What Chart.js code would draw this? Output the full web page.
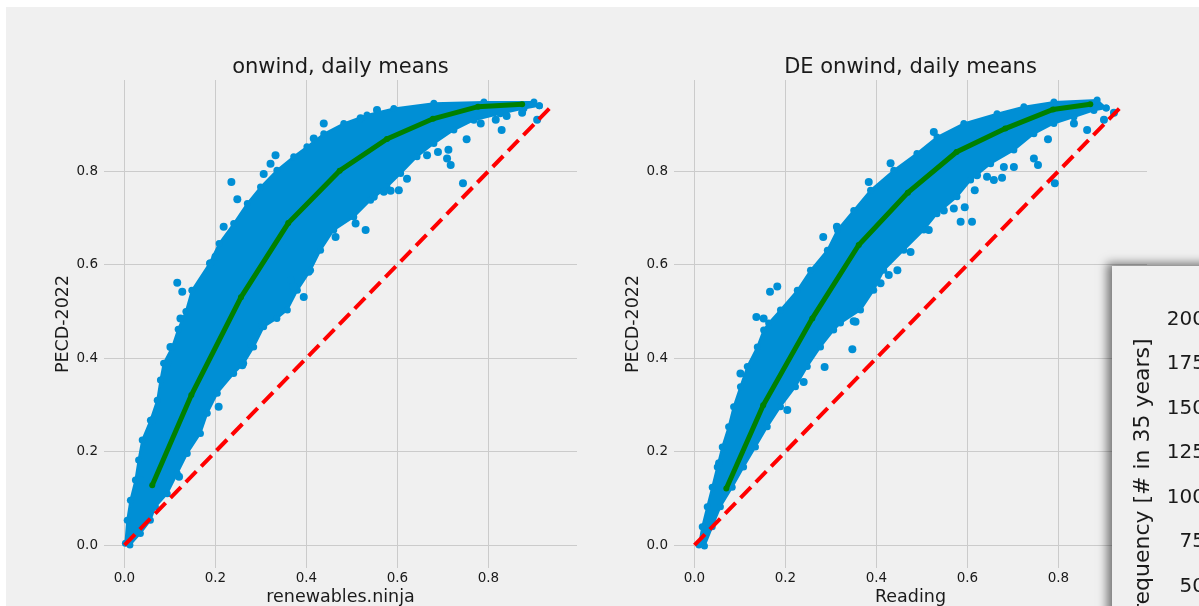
<!DOCTYPE html>
<html>
<head>
<meta charset="utf-8">
<script src="https://cdn.jsdelivr.net/npm/chart.js@4.4.1/dist/chart.umd.min.js"></script>
<style>
  html, body { margin: 0; padding: 0; background: #fff; overflow: hidden; width: 1199px; height: 606px; }
  #fig { position: absolute; left: 6px; top: 7px; width: 1193px; height: 599px; background: #f0f0f0; }
  canvas { position: absolute; }
  #left { left: 20px; top: 30px; }
  #right { left: 590px; top: 30px; }
  #overlay { position: absolute; left: 1112px; top: 266px; width: 400px; height: 460px;
             background: #f0f0f0; box-shadow: -5px -3px 9px rgba(0,0,0,0.5); }
  #overlay canvas { left: 0; top: 0; }
</style>
</head>
<body>
<div id="fig"></div>
<canvas id="left" width="570" height="576"></canvas>
<canvas id="right" width="570" height="576"></canvas>
<div id="overlay"><canvas id="freq" width="400" height="460"></canvas></div>
<script>
// tick values
const xTicks = [0, 0.2, 0.4, 0.6, 0.8];
const yTicks = [0, 0.2, 0.4, 0.6, 0.8];
const freqTicks = [0, 25, 50, 75, 100, 125, 150, 175, 200];

// 1:1 reference line
const diagX = [0, 0.94];
const diagY = [0, 0.94];

// renewables.ninja vs PECD-2022
const ninjaMeanX = [0.061, 0.147, 0.256, 0.360, 0.473, 0.577, 0.678, 0.777, 0.874];
const ninjaMeanY = [0.128, 0.321, 0.530, 0.689, 0.801, 0.869, 0.912, 0.938, 0.943];
const ninjaUpperX = [0.002, 0.006, 0.013, 0.024, 0.031, 0.039, 0.057, 0.072, 0.079, 0.086, 0.105, 0.118, 0.135, 0.148, 0.187, 0.208, 0.240, 0.270, 0.299, 0.335, 0.372, 0.401, 0.438, 0.482, 0.533, 0.592, 0.680, 0.790, 0.900, 0.912];
const ninjaUpperY = [0.004, 0.053, 0.096, 0.139, 0.182, 0.225, 0.267, 0.310, 0.353, 0.389, 0.424, 0.462, 0.500, 0.545, 0.603, 0.645, 0.688, 0.731, 0.766, 0.802, 0.831, 0.852, 0.880, 0.902, 0.920, 0.934, 0.945, 0.948, 0.948, 0.940];
const ninjaLowerX = [0.012, 0.035, 0.057, 0.068, 0.094, 0.116, 0.138, 0.167, 0.182, 0.204, 0.240, 0.262, 0.284, 0.306, 0.335, 0.358, 0.380, 0.409, 0.431, 0.460, 0.504, 0.541, 0.577, 0.607, 0.643, 0.680, 0.724, 0.768, 0.826, 0.878, 0.912];
const ninjaLowerY = [0.000, 0.025, 0.053, 0.082, 0.110, 0.153, 0.196, 0.239, 0.282, 0.325, 0.367, 0.389, 0.424, 0.467, 0.485, 0.503, 0.545, 0.588, 0.631, 0.674, 0.702, 0.738, 0.766, 0.795, 0.831, 0.859, 0.888, 0.909, 0.923, 0.934, 0.940];
const ninjaOutX = [0.235, 0.248, 0.306, 0.332, 0.321, 0.438, 0.416, 0.752, 0.744, 0.717, 0.712, 0.689, 0.709, 0.829, 0.665, 0.603, 0.585, 0.570, 0.621, 0.530, 0.508, 0.548, 0.464, 0.405, 0.372, 0.394, 0.365, 0.907, 0.874, 0.840, 0.816, 0.783, 0.116, 0.127, 0.123, 0.189, 0.200, 0.218, 0.555, 0.519, 0.207, 0.278, 0.302, 0.101, 0.094, 0.061, 0.035, 0.259, 0.120];
const ninjaOutY = [0.777, 0.740, 0.794, 0.834, 0.816, 0.902, 0.870, 0.868, 0.774, 0.813, 0.846, 0.841, 0.827, 0.888, 0.834, 0.759, 0.758, 0.756, 0.784, 0.674, 0.688, 0.745, 0.659, 0.585, 0.553, 0.531, 0.567, 0.910, 0.925, 0.918, 0.910, 0.902, 0.561, 0.542, 0.485, 0.603, 0.617, 0.681, 0.931, 0.913, 0.296, 0.431, 0.471, 0.424, 0.389, 0.267, 0.139, 0.385, 0.146];

// Reading vs PECD-2022 (DE)
const readMeanX = [0.070, 0.151, 0.259, 0.361, 0.469, 0.576, 0.683, 0.788, 0.870];
const readMeanY = [0.121, 0.299, 0.485, 0.642, 0.754, 0.841, 0.891, 0.932, 0.943];
const readUpperX = [0.010, 0.017, 0.028, 0.039, 0.050, 0.061, 0.075, 0.086, 0.101, 0.116, 0.138, 0.152, 0.163, 0.189, 0.226, 0.255, 0.292, 0.314, 0.350, 0.387, 0.438, 0.489, 0.533, 0.592, 0.665, 0.724, 0.790, 0.885, 0.905];
const readUpperY = [0.000, 0.039, 0.082, 0.124, 0.167, 0.210, 0.253, 0.296, 0.339, 0.382, 0.424, 0.460, 0.475, 0.503, 0.545, 0.588, 0.631, 0.674, 0.716, 0.759, 0.802, 0.838, 0.873, 0.902, 0.923, 0.938, 0.948, 0.952, 0.935];
const readLowerX = [0.022, 0.039, 0.057, 0.083, 0.108, 0.134, 0.160, 0.189, 0.222, 0.248, 0.277, 0.306, 0.321, 0.365, 0.394, 0.416, 0.460, 0.504, 0.533, 0.577, 0.607, 0.651, 0.702, 0.746, 0.790, 0.834, 0.878, 0.905];
const readLowerY = [-0.002, 0.039, 0.082, 0.124, 0.167, 0.210, 0.253, 0.296, 0.339, 0.382, 0.424, 0.460, 0.475, 0.503, 0.545, 0.588, 0.631, 0.674, 0.709, 0.745, 0.781, 0.816, 0.845, 0.880, 0.902, 0.916, 0.930, 0.935];
const readOutX = [0.922, 0.900, 0.863, 0.834, 0.777, 0.792, 0.755, 0.746, 0.702, 0.680, 0.676, 0.658, 0.643, 0.621, 0.616, 0.594, 0.585, 0.610, 0.570, 0.548, 0.515, 0.475, 0.446, 0.427, 0.409, 0.383, 0.431, 0.526, 0.313, 0.283, 0.166, 0.182, 0.136, 0.152, 0.350, 0.347, 0.286, 0.204, 0.101, 0.054, 0.240, 0.354];
const readOutY = [0.925, 0.910, 0.888, 0.902, 0.868, 0.774, 0.813, 0.827, 0.809, 0.809, 0.786, 0.781, 0.788, 0.791, 0.759, 0.723, 0.692, 0.692, 0.720, 0.716, 0.674, 0.627, 0.588, 0.578, 0.560, 0.777, 0.817, 0.884, 0.681, 0.659, 0.542, 0.553, 0.488, 0.485, 0.479, 0.419, 0.381, 0.289, 0.367, 0.175, 0.349, 0.478];

const FONT = "'DejaVu Sans', sans-serif";
const BLUE = '#008fd5';
const TEXT = '#1a1a1a';

function pts(xs, ys) {
  return xs.map((x, i) => ({x: x, y: ys[i]}));
}

function scatterPanel(id, title, xTitle, s) {
  // cloud outline: along the upper edge, back along the lower edge
  const cloud = pts(s.upX, s.upY).concat(pts(s.loX, s.loY).reverse());
  const ctx = document.getElementById(id).getContext('2d');
  return new Chart(ctx, {
    type: 'scatter',
    data: {
      datasets: [
        { type: 'line', data: pts(s.meanX, s.meanY), borderColor: '#008000', backgroundColor: '#008000',
          borderWidth: 5, pointRadius: 3, pointBorderWidth: 0, fill: false, tension: 0 },
        { type: 'line', data: pts(diagX, diagY), borderColor: '#ff0000', borderWidth: 4,
          borderDash: [15, 7], pointRadius: 0, fill: false },
        { data: pts(s.outX, s.outY), backgroundColor: BLUE, pointRadius: 4, pointBorderWidth: 0 },
        { type: 'line', data: cloud, borderColor: BLUE, backgroundColor: BLUE,
          borderWidth: 2, pointRadius: 3.5, pointBorderWidth: 0, fill: 'shape', tension: 0 }
      ]
    },
    options: {
      responsive: false,
      animation: false,
      layout: { padding: { left: 0, right: 13, top: 0, bottom: 0 } },
      plugins: { legend: { display: false }, tooltip: { enabled: false } },
      scales: {
        x: {
          type: 'linear', min: -0.045, max: 0.9946,
          afterBuildTicks: sc => { sc.ticks = xTicks.map(v => ({value: v})); },
          afterFit: sc => { sc.height = 38; },
          grid: { color: '#cbcbcb', lineWidth: 1, drawTicks: false },
          border: { display: false },
          ticks: { color: TEXT, padding: 2, font: { family: FONT, size: 13.5 },
                   callback: v => v.toFixed(1) },
          title: { display: true, text: xTitle, color: TEXT, padding: { top: 0, bottom: -1.5 },
                   font: { family: FONT, size: 17.5 } }
        },
        // top axis only carries the panel title, centred over the plot area
        top: {
          type: 'linear', position: 'top', min: -0.045, max: 0.9946,
          afterFit: sc => { sc.height = 50; },
          grid: { display: false, drawTicks: false },
          border: { display: false },
          ticks: { display: false },
          title: { display: true, text: title, color: TEXT, padding: { top: 25.4, bottom: 0 },
                   font: { family: FONT, size: 21 } }
        },
        y: {
          type: 'linear', min: -0.049, max: 0.995,
          afterBuildTicks: sc => { sc.ticks = yTicks.map(v => ({value: v})); },
          afterFit: sc => { sc.width = 84; },
          grid: { color: '#cbcbcb', lineWidth: 1, drawTicks: false },
          border: { display: false },
          ticks: { color: TEXT, padding: 6, font: { family: FONT, size: 13.5 },
                   callback: v => v.toFixed(1) },
          title: { display: true, text: 'PECD-2022', color: TEXT, padding: { top: 32.5, bottom: 0 },
                   font: { family: FONT, size: 17.5 } }
        }
      }
    }
  });
}

scatterPanel('left', 'onwind, daily means', 'renewables.ninja', {
  meanX: ninjaMeanX, meanY: ninjaMeanY, upX: ninjaUpperX, upY: ninjaUpperY,
  loX: ninjaLowerX, loY: ninjaLowerY, outX: ninjaOutX, outY: ninjaOutY
});
scatterPanel('right', 'DE onwind, daily means', 'Reading', {
  meanX: readMeanX, meanY: readMeanY, upX: readUpperX, upY: readUpperY,
  loX: readLowerX, loY: readLowerY, outX: readOutX, outY: readOutY
});

// the frequency figure that lies over the bottom right corner
new Chart(document.getElementById('freq').getContext('2d'), {
  type: 'bar',
  data: { labels: [''], datasets: [] },
  options: {
    responsive: false,
    animation: false,
    layout: { padding: { left: 0, right: 0, top: 0, bottom: 48.5 } },
    plugins: { legend: { display: false }, tooltip: { enabled: false } },
    scales: {
      x: { display: false },
      y: {
        type: 'linear', min: -1, max: 219.5,
        afterBuildTicks: sc => { sc.ticks = freqTicks.map(v => ({value: v})); },
        afterFit: sc => { sc.width = 100; },
        grid: { display: false, drawTicks: false },
        border: { display: false },
        ticks: { color: TEXT, padding: 7, font: { family: FONT, size: 20 } },
        title: { display: true, text: 'Frequency [# in 35 years]', color: TEXT,
                 padding: { top: 17.8, bottom: 0 }, font: { family: FONT, size: 22 } }
      }
    }
  }
});
</script>
</body>
</html>
